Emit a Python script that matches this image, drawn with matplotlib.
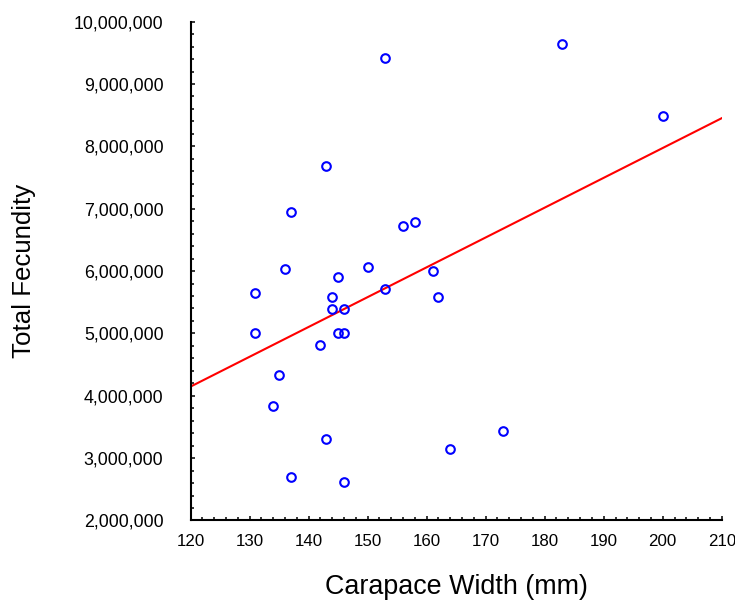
import numpy as np
import matplotlib
matplotlib.use('Agg')
import matplotlib.pyplot as plt
from matplotlib.ticker import FuncFormatter, MultipleLocator

plt.rcParams['font.family'] = ['Liberation Sans', 'DejaVu Sans']

# carapace width (mm) and total fecundity for each female
width_mm = [153, 143, 137, 156, 158, 136, 150, 161, 145, 131,
            153, 162, 144, 144, 146, 131, 145, 146, 142, 135,
            134, 143, 164, 173, 137, 146, 183, 200]
fecundity = [9.41e6, 7.69e6, 6.95e6, 6.73e6, 6.79e6, 6.03e6, 6.06e6, 6.00e6, 5.90e6, 5.64e6,
             5.71e6, 5.58e6, 5.58e6, 5.39e6, 5.39e6, 5.01e6, 5.01e6, 5.01e6, 4.81e6, 4.33e6,
             3.83e6, 3.31e6, 3.15e6, 3.44e6, 2.70e6, 2.61e6, 9.64e6, 8.49e6]

x_ticks = [120, 130, 140, 150, 160, 170, 180, 190, 200, 210]
y_ticks = [2e6, 3e6, 4e6, 5e6, 6e6, 7e6, 8e6, 9e6, 10e6]

x = np.array(width_mm, dtype=float)
y = np.array(fecundity)

# least squares line over the full x range
slope, intercept = np.polyfit(x, y, 1)
xl = np.array([x_ticks[0], x_ticks[-1]], dtype=float)

fig = plt.figure(figsize=(7.35, 6.01), dpi=100)
ax = fig.add_axes([0.2592, 0.134, 0.7228, 0.830])

ax.plot(xl, intercept + slope * xl, color='red', lw=1.5, zorder=2)
ax.plot(x, y, 'o', ms=6.2, mfc='none', mec='blue', mew=1.5, zorder=3)

ax.set_xlim(x_ticks[0], x_ticks[-1])
ax.set_ylim(y_ticks[0], y_ticks[-1])
ax.set_xticks(x_ticks)
ax.set_yticks(y_ticks)
ax.xaxis.set_minor_locator(MultipleLocator(2))
ax.yaxis.set_minor_locator(MultipleLocator(200000))
ax.yaxis.set_major_formatter(FuncFormatter(lambda v, p: f'{int(v):,}'))

for s in ['top', 'right']:
    ax.spines[s].set_visible(False)
for s in ['left', 'bottom']:
    ax.spines[s].set_linewidth(1.5)

ax.tick_params(which='both', direction='in', width=1.1, color='black')
ax.tick_params(which='major', length=3.2)
ax.tick_params(which='minor', length=2.0)
ax.tick_params(axis='y', which='major', labelsize=12.8, pad=19.5)
ax.tick_params(axis='x', which='major', labelsize=12.2, pad=10)

ax.set_xlabel('Carapace Width (mm)', fontsize=19.4)
ax.set_ylabel('Total Fecundity', fontsize=18.6)
ax.xaxis.set_label_coords(0.5, -0.107)
ax.yaxis.set_label_coords(-0.29, 0.5)

fig.savefig('out.png', dpi=100)
